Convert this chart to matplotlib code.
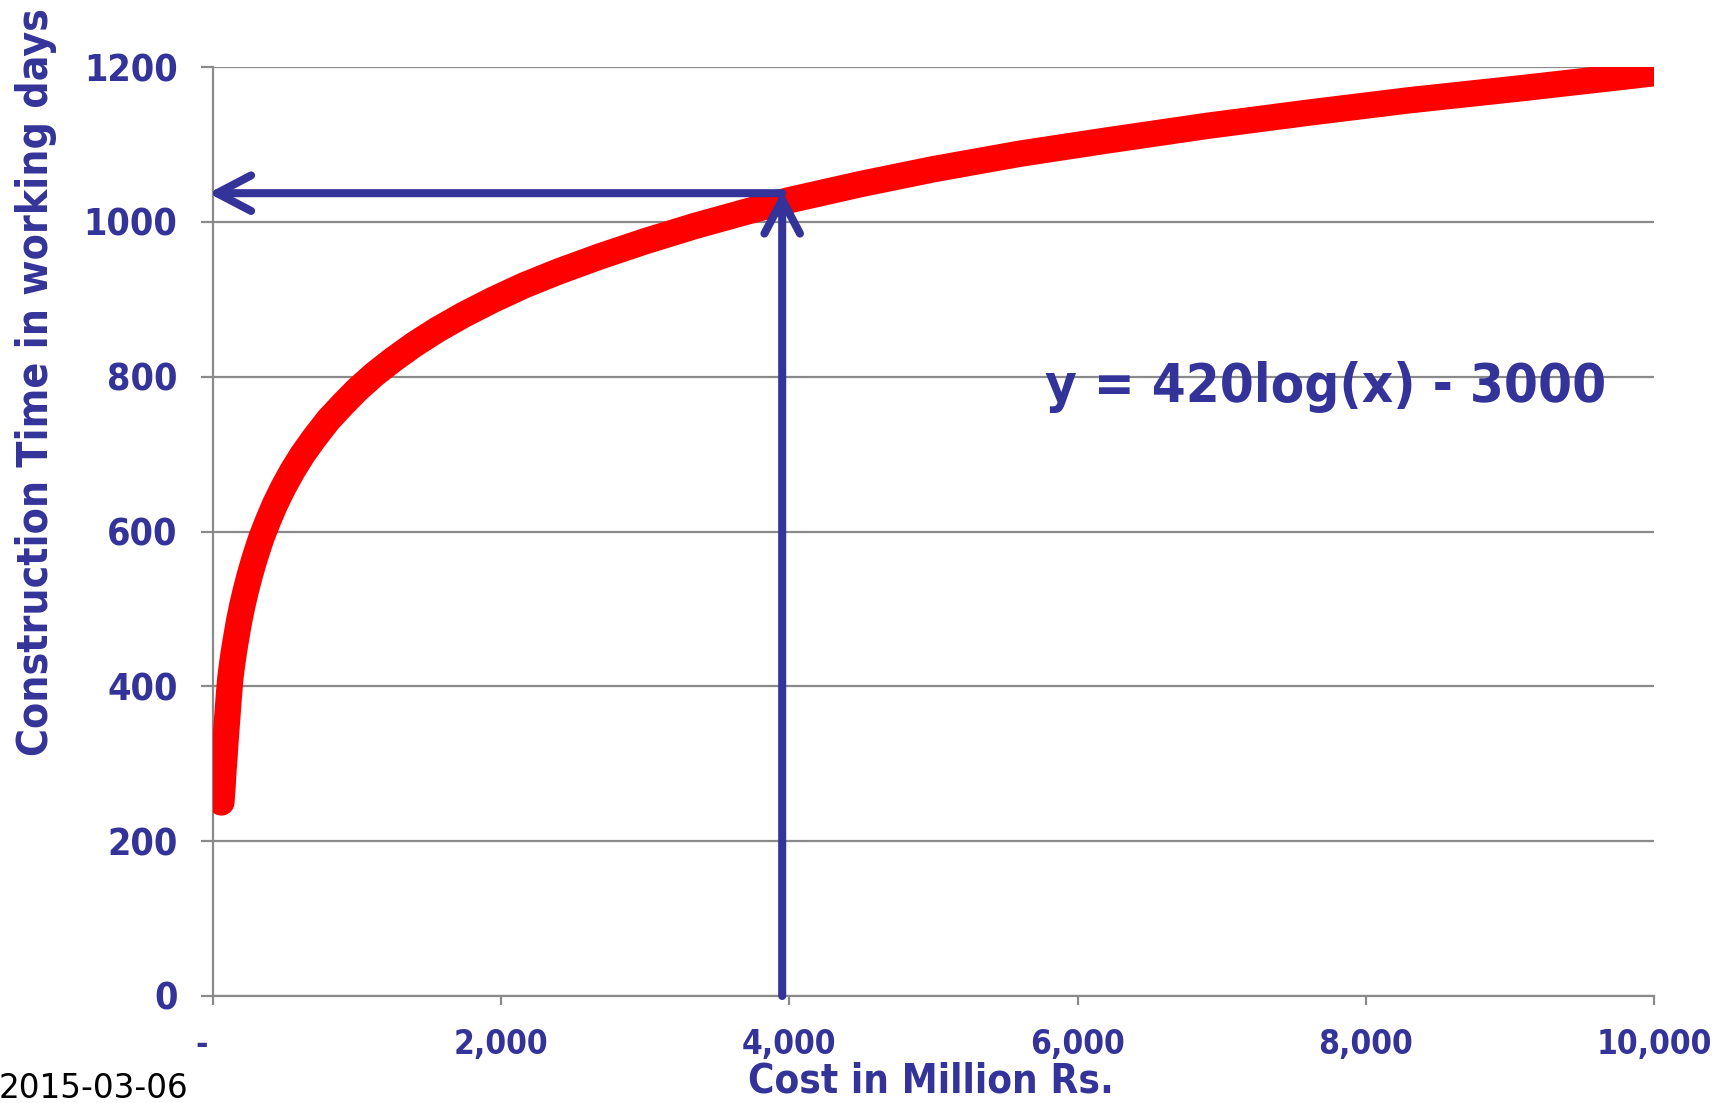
import matplotlib
matplotlib.use("Agg")
import matplotlib.pyplot as plt

# Cost (million Rs.) vs construction time (working days) along the fitted curve
cost = [58, 66, 72, 80, 87, 95, 103, 111, 120, 132, 146, 163, 182, 204, 228,
        256, 287, 320, 338, 380, 430, 488, 550, 620, 700, 800, 900, 1000, 1120,
        1250, 1400, 1560, 1740, 1940, 2160, 2400, 2680, 3000, 3350, 3700, 4000,
        4500, 5000, 5600, 6200, 6900, 7600, 8300, 9100, 10000]
days = [250, 270, 290, 310, 330, 350, 370, 390, 410, 428, 446, 465, 485, 505, 524,
        544, 564, 583, 593, 613, 635, 657, 678, 699, 720, 744, 764, 783, 803,
        822, 842, 861, 880, 899, 918, 936, 955, 975, 995, 1013, 1028,
        1049, 1068, 1088, 1105, 1124, 1141, 1157, 1173, 1192]

# Worked example
example_cost = 3950
example_days = 1037

y_ticks = [0, 200, 400, 600, 800, 1000, 1200]
y_tick_labels = ["0", "200", "400", "600", "800", "1000", "1200"]
x_ticks = [0, 2000, 4000, 6000, 8000, 10000]
x_tick_labels = ["-  ", "2,000", "4,000", "6,000", "8,000", "10,000"]

equation = "y = 420log(x) - 3000"
x_title = "Cost in Million Rs."
y_title = "Construction Time in working days"
date_stamp = "2015-03-06"

BLUE = "#333399"
RED = "#ff0000"
GREY = "#8a8a8a"

plt.rcParams["font.family"] = ["DejaVu Sans"]
COND = dict(fontweight="bold", fontstretch="condensed", color=BLUE)

W, H = 1720, 1103
fig = plt.figure(figsize=(W / 100, H / 100), dpi=100)
ax = fig.add_axes([213 / W, 1 - 996 / H, (1654 - 213) / W, (996 - 67) / H])

ax.set_xlim(0, 10000)
ax.set_ylim(0, 1200)

# curve
ax.plot(cost, days, color=RED, lw=19, solid_capstyle="round",
        solid_joinstyle="round", zorder=3)

# arrows: up from the cost axis to the curve, then across to the time axis
arrow_kw = dict(arrowstyle="->,head_length=2.45,head_width=1.28", lw=5.8,
                color=BLUE, shrinkA=0, shrinkB=0, mutation_scale=10,
                capstyle="round", joinstyle="round")
ax.annotate("", xy=(example_cost, example_days + 3), xytext=(example_cost, 0),
            arrowprops=arrow_kw, annotation_clip=False, zorder=5)
ax.annotate("", xy=(-32, example_days), xytext=(example_cost, example_days),
            arrowprops=arrow_kw, annotation_clip=False, zorder=5)

# grid, spines, ticks
ax.set_yticks(y_ticks)
ax.set_yticklabels(y_tick_labels, fontsize=27, **COND)
ax.set_xticks(x_ticks)
ax.set_xticklabels(x_tick_labels, fontsize=24, **COND)
ax.yaxis.grid(True, color=GREY, lw=1.6)
ax.set_axisbelow(True)
for side in ("top", "right"):
    ax.spines[side].set_visible(False)
for side in ("left", "bottom"):
    ax.spines[side].set_color(GREY)
    ax.spines[side].set_linewidth(1.6)
ax.tick_params(axis="y", direction="out", length=8.5, width=1.6, color=GREY, pad=17)
ax.tick_params(axis="x", direction="out", length=6.5, width=1.6, color=GREY, pad=16.5)

# equation label
fig.text(1045 / W, 1 - 402 / H, equation, fontsize=39.2, ha="left",
         va="baseline", **COND)

# axis titles
fig.text(931 / W, 1.2 / H, x_title, fontsize=29, ha="center",
         va="bottom", **COND)
fig.text(36 / W, 1 - 382 / H, y_title, fontsize=30.6, ha="center",
         va="center", rotation=90, **COND)

# date stamp
fig.text(-0.001, 1 - 1098 / H, date_stamp, fontsize=23.5, color="black",
         ha="left", va="baseline")

fig.savefig("out.png", dpi=100)
